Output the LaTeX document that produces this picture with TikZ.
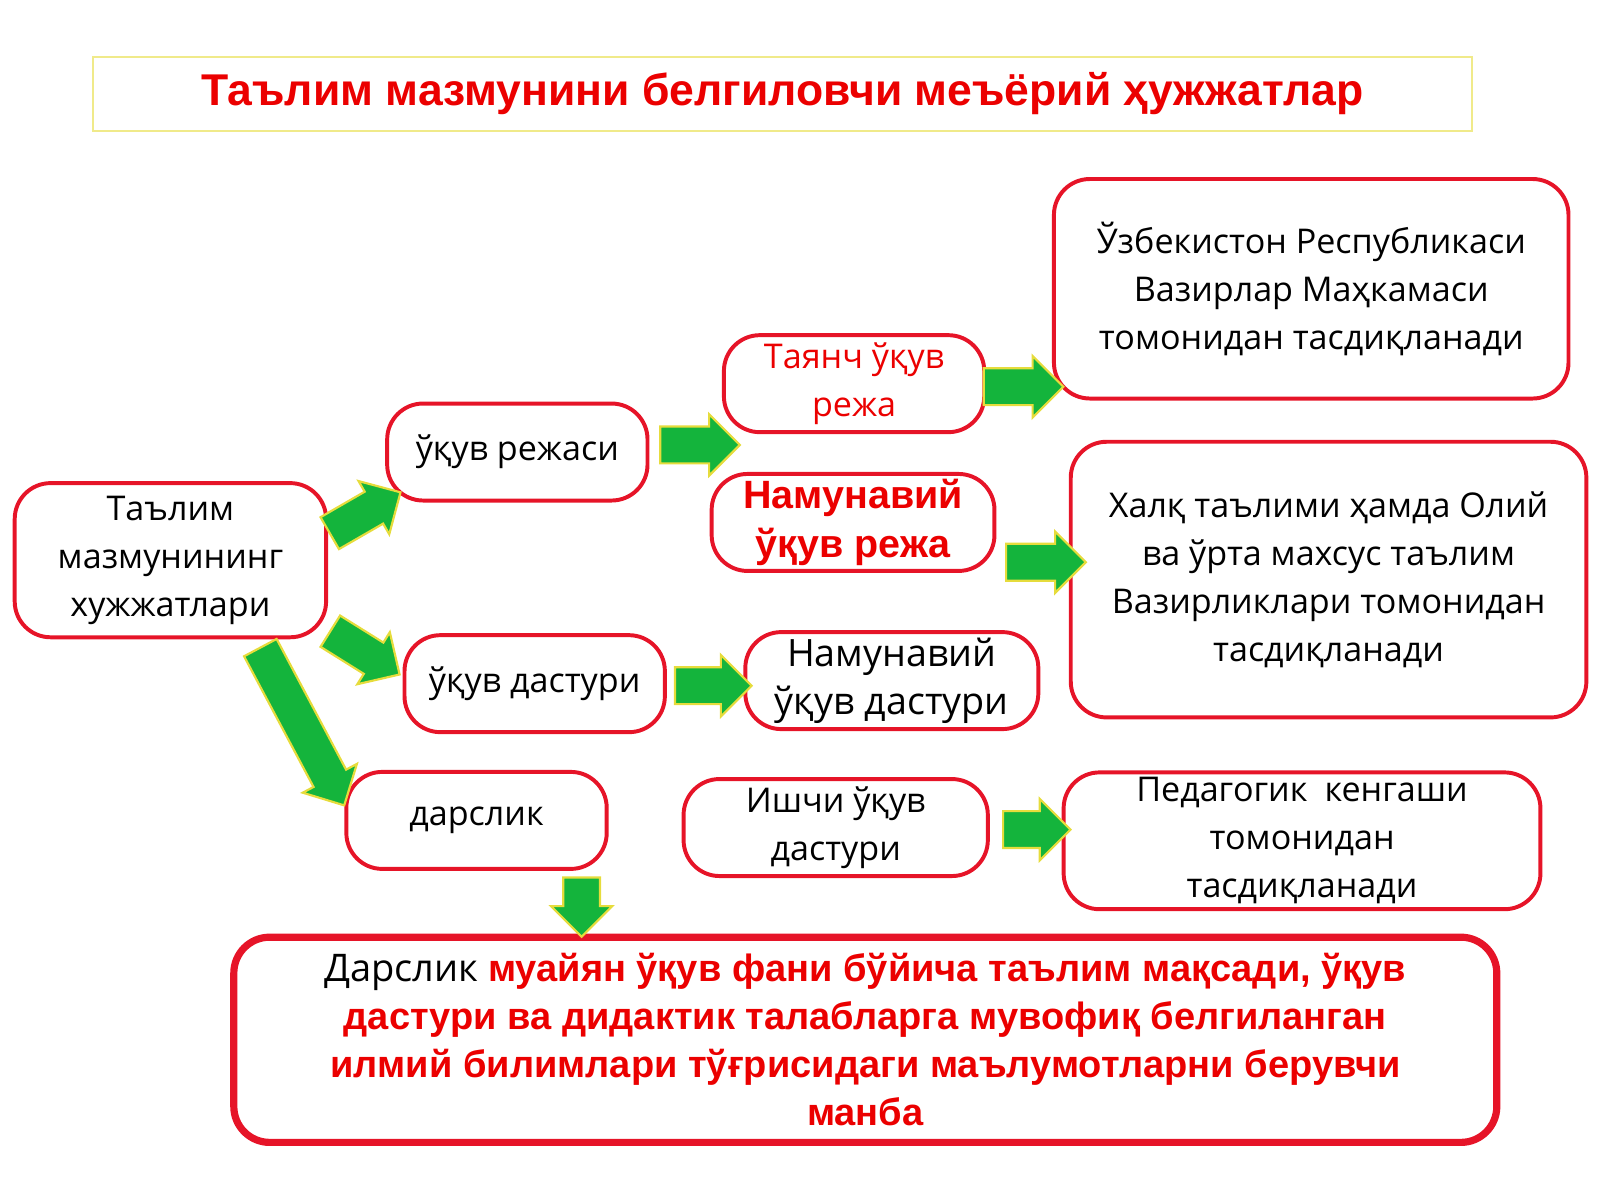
\documentclass[tikz,border=0pt]{standalone}
\usepackage{fontspec}
\setmainfont{Open Sans}
\newfontfamily\arialf{Liberation Sans}
\usetikzlibrary{shapes.arrows}
\definecolor{boxred}{RGB}{230,20,40}
\definecolor{txtred}{RGB}{235,0,0}
\definecolor{agreen}{RGB}{20,180,60}
\definecolor{ayellow}{RGB}{230,220,60}
\tikzset{
  box/.style={draw=boxred, line width=1.1pt, rounded corners=10pt, align=center, inner sep=0pt,
    font=\fontsize{9.5}{13.4}\selectfont},
  garrow/.style={single arrow, fill=agreen, draw=ayellow, line width=0.6pt,
    single arrow head extend=0.12cm, inner xsep=0pt, inner ysep=0.17cm},
}
\newcommand{\rb}[1]{{\arialf\bfseries\color{txtred}#1}}
\begin{document}
\begin{tikzpicture}[x=0.01cm,y=-0.01cm]
\useasboundingbox (0,0) rectangle (1568,1176);
% title
\node[draw=ayellow!60, line width=0.5pt, minimum width=13.51cm, minimum height=0.73cm,
  font=\arialf\bfseries\fontsize{12.4}{14}\selectfont, text=txtred] (title) at (767,92)
  {Таълим мазмунини белгиловчи меъёрий ҳужжатлар};
% boxes
\node[box, minimum width=3.05cm, minimum height=1.51cm] (talim) at (167,549) {Таълим\\мазмунининг\\хужжатлари};
\node[box, minimum width=2.55cm, minimum height=0.95cm] (reja) at (507,443) {ўқув режаси};
\node[box, minimum width=2.55cm, minimum height=0.95cm, text=txtred] (tayanch) at (837,376) {Таянч ўқув\\режа};
\node[box, minimum width=2.77cm, minimum height=0.95cm, font=\arialf\bfseries\fontsize{11}{13.4}\selectfont, text=txtred] (namreja) at (836,512) {Намунавий\\ўқув режа};
\node[box, minimum width=5.04cm, minimum height=2.15cm] (vazir) at (1285,283) {Ўзбекистон Республикаси\\Вазирлар Маҳкамаси\\томонидан тасдиқланади};
\node[box, minimum width=5.05cm, minimum height=2.70cm] (xalq) at (1302,568) {Халқ таълими ҳамда Олий\\ва ўрта махсус таълим\\Вазирликлари томонидан\\тасдиқланади};
\node[box, minimum width=2.55cm, minimum height=0.95cm] (dastur) at (524,670) {ўқув дастури};
\node[box, minimum width=2.87cm, minimum height=0.95cm, font=\fontsize{10.5}{13.4}\selectfont] (namdastur) at (874,667) {Намунавий\\ўқув дастури};
\node[box, minimum width=2.55cm, minimum height=0.95cm] (darslik) at (467,804) {дарслик};
\node[box, minimum width=2.98cm, minimum height=0.95cm] (ishchi) at (819,811) {Ишчи ўқув\\дастури};
\node[box, minimum width=4.67cm, minimum height=1.34cm] (pedagog) at (1276,824) {Педагогик\enspace кенгаши\\томонидан\\тасдиқланади};
\node[box, line width=2pt, minimum width=12.37cm, minimum height=2.01cm,
  font=\fontsize{10.6}{13.4}\selectfont] (manba) at (848,1019)
  {Дарслик \rb{муайян ўқув фани бўйича таълим мақсади, ўқув}\\
   \rb{дастури ва дидактик талабларга мувофиқ белгиланган}\\
   \rb{илмий билимлари тўғрисидаги маълумотларни берувчи}\\
   \rb{манба}};
% green arrows
\node[garrow, minimum height=0.80cm, rotate=30] (a1) at (350,507) {};
\node[garrow, minimum height=0.80cm, rotate=-32] (a2) at (350,635) {};
\node[garrow, minimum height=1.75cm, rotate=-62] (a3) at (292,704) {};
\node[garrow, minimum height=0.78cm] (a4) at (677,436) {};
\node[garrow, minimum height=0.78cm] (a5) at (994,379) {};
\node[garrow, minimum height=0.78cm] (a6) at (1016,551) {};
\node[garrow, minimum height=0.75cm] (a7) at (690,672) {};
\node[garrow, minimum height=0.66cm] (a8) at (1007,813) {};
\node[garrow, minimum height=0.58cm, rotate=-90] (a9) at (570,880) {};
\end{tikzpicture}
\end{document}
